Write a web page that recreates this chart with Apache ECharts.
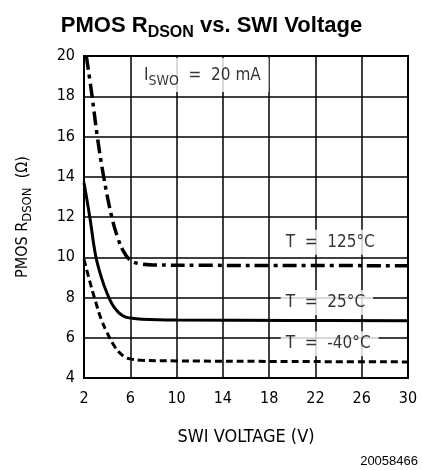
<!DOCTYPE html>
<html>
<head>
<meta charset="utf-8">
<script src="https://cdn.jsdelivr.net/npm/echarts@6/dist/echarts.min.js"></script>
<style>
html,body{margin:0;padding:0;background:#fff;}
#chart{width:423px;height:470px;}
</style>
</head>
<body>
<div id="chart"></div>
<script>
// ---- data ----
var xTicks = [2, 6, 10, 14, 18, 22, 26, 30];
var yTicks = [4, 6, 8, 10, 12, 14, 16, 18, 20];
var voltage125 = [2.2, 2.7, 3.15, 3.7, 4.4, 4.9, 5.4, 6.0, 6.8, 8, 12, 20, 30];
var rdson125   = [20, 18, 16, 14, 12, 11, 10.3, 9.85, 9.68, 9.62, 9.6, 9.59, 9.58];
var voltage25  = [2, 2.5, 3, 3.5, 4, 4.5, 5, 5.5, 6, 7, 10, 20, 30];
var rdson25    = [13.7, 12, 10.1, 9.0, 8.2, 7.6, 7.25, 7.05, 6.98, 6.92, 6.88, 6.86, 6.85];
var voltageM40 = [2, 2.5, 3, 3.5, 4, 4.5, 5, 5.5, 6, 7, 10, 20, 30];
var rdsonM40   = [9.9, 8.8, 7.8, 6.9, 6.25, 5.7, 5.3, 5.05, 4.95, 4.88, 4.85, 4.82, 4.8];
var annotText = ['I{sub|SWO}  =  20 mA', 'T  =  125°C', 'T  =  25°C', 'T  =  -40°C'];
var annotX = [6.75, 19.0, 19.0, 19.0];
var annotY = [19.05, 10.75, 7.75, 5.7];

function pairs(xs, ys) { return xs.map(function (x, i) { return [x, ys[i]]; }); }

var FONT = '"DejaVu Sans Condensed", "DejaVu Sans"';
var chart = echarts.init(document.getElementById('chart'), null, {renderer: 'canvas'});

var lineCommon = {
  type: 'line', showSymbol: false, smooth: 0.4, z: 3, silent: true
};

var option = {
  animation: false,
  backgroundColor: '#fff',
  title: {
    text: 'PMOS R{sub|DSON} vs. SWI Voltage',
    left: 'center', top: 6,
    textStyle: {
      fontFamily: 'Liberation Sans', fontSize: 22, fontWeight: 'bold', color: '#000',
      rich: {
        sub: {fontFamily: 'Liberation Sans', fontSize: 16, fontWeight: 'bold', color: '#000', padding: [14, 0, 0, 0]}
      }
    }
  },
  grid: {left: 84, right: 15, top: 56, bottom: 92, show: true, borderColor: '#000', borderWidth: 2, backgroundColor: 'transparent'},
  xAxis: {
    type: 'value', min: 2, max: 30, interval: 4,
    name: 'SWI VOLTAGE (V)', nameLocation: 'middle', nameGap: 50,
    nameTextStyle: {fontFamily: FONT, fontSize: 18, color: '#000'},
    axisLine: {show: true, lineStyle: {color: '#000', width: 2}},
    axisTick: {show: false},
    axisLabel: {fontFamily: FONT, fontSize: 16, color: '#000', margin: 13},
    splitLine: {show: true, lineStyle: {color: '#000', width: 1.5}}
  },
  yAxis: {
    type: 'value', min: 4, max: 20, interval: 2,
    name: 'PMOS R{sub|DSON}  (Ω)', nameLocation: 'middle', nameGap: 50, nameRotate: 90,
    nameTextStyle: {fontFamily: FONT, fontSize: 16, color: '#000',
      rich: {sub: {fontFamily: FONT, fontSize: 13, color: '#000', padding: [9, 0, 0, 0]}}},
    axisLine: {show: true, lineStyle: {color: '#000', width: 2}},
    axisTick: {show: false},
    axisLabel: {fontFamily: FONT, fontSize: 16, color: '#000', margin: 9},
    splitLine: {show: true, lineStyle: {color: '#000', width: 1.5}}
  },
  series: [
    Object.assign({}, lineCommon, {name: '125', data: pairs(voltage125, rdson125),
      lineStyle: {color: '#000', width: 3.5, type: [14, 5, 4, 5]}}),
    Object.assign({}, lineCommon, {name: '25', data: pairs(voltage25, rdson25),
      lineStyle: {color: '#000', width: 3}}),
    Object.assign({}, lineCommon, {name: '-40', data: pairs(voltageM40, rdsonM40),
      lineStyle: {color: '#000', width: 3, type: [7, 4]}}),
    {
      type: 'scatter', symbolSize: 0, z: 5, silent: true,
      data: annotX.map(function (x, i) { return {value: [x, annotY[i]], name: annotText[i]}; }),
      label: {
        show: true, position: 'right', distance: 0,
        formatter: function (p) { return p.name; },
        fontFamily: FONT, fontSize: 17, color: '#000',
        backgroundColor: '#fff', padding: [4, 8, 4, 5],
        rich: {sub: {fontFamily: FONT, fontSize: 14, color: '#000', padding: [12, 0, 0, 0]}}
      }
    }
  ],
  graphic: [{
    type: 'text', right: 5, bottom: 2,
    style: {text: '20058466', font: '13px "Liberation Sans"', fill: '#000'}
  }]
};
chart.setOption(option);
</script>
</body>
</html>
